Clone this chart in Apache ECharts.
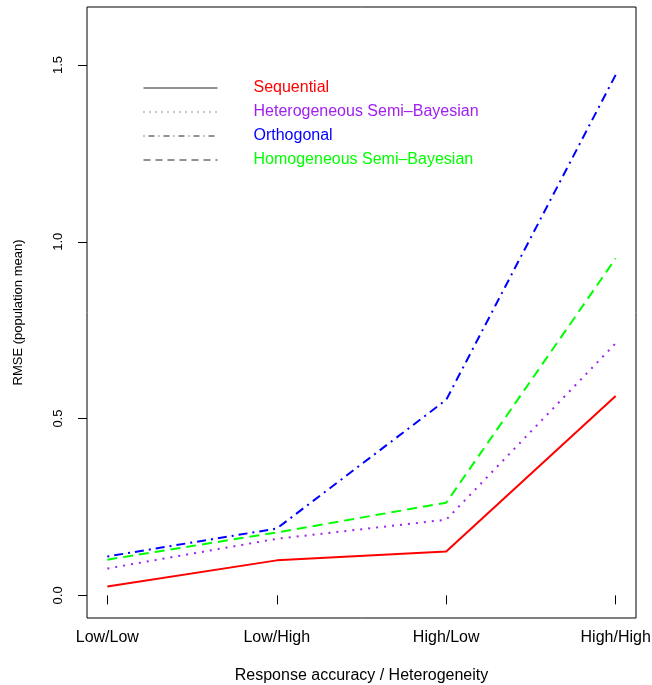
<!DOCTYPE html>
<html>
<head>
<meta charset="utf-8">
<script src="https://cdn.jsdelivr.net/npm/echarts@6/dist/echarts.min.js"></script>
<style>html,body{margin:0;padding:0;background:#fff;}#c{width:652px;height:685px;}</style>
</head>
<body>
<div id="c"></div>
<script>
const categories = ['Low/Low', 'Low/High', 'High/Low', 'High/High'];
const seriesNames = ['Sequential', 'Heterogeneous Semi\u2013Bayesian', 'Orthogonal', 'Homogeneous Semi\u2013Bayesian'];
const sequential = [0.025, 0.099, 0.124, 0.564];
const heterogeneous = [0.076, 0.160, 0.214, 0.713];
const orthogonal = [0.110, 0.189, 0.553, 1.472];
const homogeneous = [0.101, 0.178, 0.262, 0.953];
const yTicks = [0, 0.5, 1.0, 1.5];
const xTicks = [1, 2, 3, 4];

const font = '"Liberation Sans", Arial, Helvetica, sans-serif';
const colors = ['#FF0000', '#A020F0', '#0000FF', '#00FF00'];
const dashes = ['solid', [2, 6], [2, 5, 9, 5], [10, 6]];
const legendDashes = ['solid', [1, 5], [1, 4, 6, 4], [7, 5]];
const values = [sequential, heterogeneous, orthogonal, homogeneous];

const toPts = arr => arr.map((v, i) => [i + 1, v]);

const chart = echarts.init(document.getElementById('c'), null, {renderer: 'canvas'});
chart.setOption({
  animation: false,
  backgroundColor: '#fff',
  grid: {left: 87, right: 16, top: 7, bottom: 67, show: true, borderColor: '#000', borderWidth: 1,
    backgroundColor: 'transparent', outerBoundsMode: 'none', containLabel: false},
  legend: {
    orient: 'vertical',
    left: 138,
    top: 75,
    itemWidth: 74,
    itemHeight: 14,
    itemGap: 8,
    textStyle: {fontFamily: font, fontSize: 16, padding: [0, 0, 0, 31]},
    data: seriesNames.map((n, i) => ({
      name: n,
      lineStyle: {color: '#222', width: 1, type: legendDashes[i]},
      itemStyle: {color: '#000', opacity: 0},
      textStyle: {color: colors[i]}
    }))
  },
  xAxis: {
    type: 'value',
    min: 0.88,
    max: 4.12,
    name: 'Response accuracy / Heterogeneity',
    nameLocation: 'middle',
    nameGap: 50,
    nameTextStyle: {fontFamily: font, fontSize: 16, color: '#000'},
    axisLine: {show: false},
    splitLine: {show: false},
    axisTick: {show: true, inside: false, length: 9, customValues: xTicks, lineStyle: {color: '#000'}},
    axisLabel: {customValues: xTicks, margin: 12, fontFamily: font, fontSize: 16, color: '#000',
      formatter: v => categories[Math.round(v) - 1]}
  },
  yAxis: {
    type: 'value',
    min: -0.064,
    max: 1.664,
    name: 'RMSE (population mean)',
    nameLocation: 'middle',
    nameRotate: 90,
    nameGap: 62,
    nameTextStyle: {fontFamily: font, fontSize: 13, color: '#000'},
    axisLine: {show: false},
    splitLine: {show: false},
    axisTick: {show: true, length: 9, customValues: yTicks, lineStyle: {color: '#000'}},
    axisLabel: {customValues: yTicks, rotate: 90, margin: 22, fontFamily: font, fontSize: 13, color: '#000',
      formatter: v => v.toFixed(1)}
  },
  series: values.map((arr, i) => ({
    name: seriesNames[i],
    type: 'line',
    data: toPts(arr),
    symbol: 'none',
    showSymbol: false,
    color: colors[i],
    lineStyle: {color: colors[i], width: 2, type: dashes[i]}
  }))
});
</script>
</body>
</html>
